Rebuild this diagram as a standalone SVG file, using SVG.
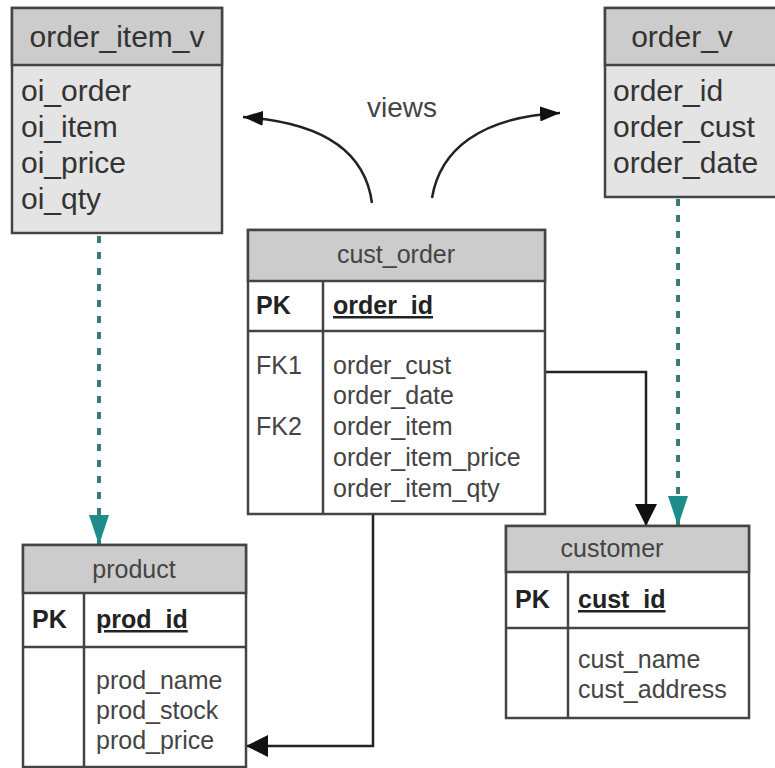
<svg xmlns="http://www.w3.org/2000/svg" width="775" height="768" viewBox="0 0 775 768">
<defs>
<marker id="ab2" viewBox="0 0 22 22" refX="22" refY="11" markerWidth="22" markerHeight="22" markerUnits="userSpaceOnUse" orient="auto"><path d="M0,0 L22,11 L0,22 Z" fill="#111"/></marker>
<marker id="av" viewBox="0 0 20 15" refX="20" refY="7.5" markerWidth="20" markerHeight="15" markerUnits="userSpaceOnUse" orient="auto"><path d="M0,0 L20,7.5 L0,15 Z" fill="#111"/></marker>
<marker id="at" viewBox="0 0 30 20" refX="30" refY="10" markerWidth="30" markerHeight="20" markerUnits="userSpaceOnUse" orient="auto"><path d="M0,0 L30,10 L0,20 Z" fill="#1f8c8c"/></marker>
</defs>
<style>
.box{stroke:#444;stroke-width:2.5;}
.hdr{fill:#cccccc;}
.vbody{fill:#e4e4e4;}
.wbody{fill:#ffffff;}
.ln{stroke:#444;stroke-width:2.5;fill:none;}
.big{font-family:"Liberation Sans",Arial,sans-serif;font-size:30px;fill:#333;}
.sm{font-family:"Liberation Sans",Arial,sans-serif;font-size:25px;fill:#444;}
.pk{font-family:"Liberation Sans",Arial,sans-serif;font-size:25px;font-weight:bold;fill:#222;}
.u{text-decoration:underline;}
.dot{stroke:#3d7a7a;stroke-width:4;stroke-dasharray:7 9;fill:none;}
.con{stroke:#222;stroke-width:2.5;fill:none;}
</style>
<rect width="775" height="768" fill="#fff"/>

<g id="connectors">
<path class="dot" d="M99,236 V545" marker-end="url(#at)"/>
<path class="dot" d="M678,199 V526" marker-end="url(#at)"/>
<path class="con" d="M545,372 H646 V526" marker-end="url(#ab2)"/>
<path class="con" d="M373,514 V746 H246" marker-end="url(#ab2)"/>
<path class="con" d="M372,203 C365,150 320,122 243,117" marker-end="url(#av)"/>
<path class="con" d="M432,198 C440,150 480,117 560,113" marker-end="url(#av)"/>
<text x="402" y="117" text-anchor="middle" class="big" style="fill:#444;font-size:28px">views</text>
</g>

<g id="order_item_v">
<rect class="box vbody" x="12" y="8" width="210" height="225"/>
<rect class="box hdr" x="12" y="8" width="210" height="57"/>
<text class="big" x="117" y="47" text-anchor="middle">order_item_v</text>
<text class="big" x="21" y="101">oi_order</text>
<text class="big" x="21" y="137">oi_item</text>
<text class="big" x="21" y="173">oi_price</text>
<text class="big" x="21" y="209">oi_qty</text>
</g>

<g id="order_v">
<rect class="box vbody" x="605" y="8" width="175" height="189"/>
<rect class="box hdr" x="605" y="8" width="175" height="57"/>
<text class="big" x="682" y="47" text-anchor="middle">order_v</text>
<text class="big" x="613" y="101">order_id</text>
<text class="big" x="613" y="137">order_cust</text>
<text class="big" x="613" y="173">order_date</text>
</g>

<g id="cust_order">
<rect class="box wbody" x="248" y="230" width="297" height="284"/>
<rect class="box hdr" x="248" y="230" width="297" height="51"/>
<line class="ln" x1="248" y1="331" x2="545" y2="331"/>
<line class="ln" x1="323" y1="281" x2="323" y2="514"/>
<text class="sm" x="396" y="263" text-anchor="middle">cust_order</text>
<text class="pk" x="256" y="314">PK</text>
<text class="pk u" x="333" y="314">order_id</text>
<text class="sm" x="256" y="374">FK1</text>
<text class="sm" x="256" y="435">FK2</text>
<text class="sm" x="333" y="374">order_cust</text>
<text class="sm" x="333" y="404">order_date</text>
<text class="sm" x="333" y="435">order_item</text>
<text class="sm" x="333" y="466">order_item_price</text>
<text class="sm" x="333" y="497">order_item_qty</text>
</g>

<g id="product">
<rect class="box wbody" x="23" y="545" width="223" height="222"/>
<rect class="box hdr" x="23" y="545" width="223" height="48"/>
<line class="ln" x1="23" y1="647" x2="246" y2="647"/>
<line class="ln" x1="84" y1="593" x2="84" y2="767"/>
<text class="sm" x="134" y="578" text-anchor="middle">product</text>
<text class="pk" x="32" y="628">PK</text>
<text class="pk u" x="96" y="628">prod_id</text>
<text class="sm" x="96" y="689">prod_name</text>
<text class="sm" x="96" y="719">prod_stock</text>
<text class="sm" x="96" y="749">prod_price</text>
</g>

<g id="customer">
<rect class="box wbody" x="506" y="526" width="243" height="192"/>
<rect class="box hdr" x="506" y="526" width="243" height="46"/>
<line class="ln" x1="506" y1="628" x2="749" y2="628"/>
<line class="ln" x1="568" y1="572" x2="568" y2="718"/>
<text class="sm" x="612" y="557" text-anchor="middle">customer</text>
<text class="pk" x="515" y="608">PK</text>
<text class="pk u" x="578" y="608">cust_id</text>
<text class="sm" x="578" y="668">cust_name</text>
<text class="sm" x="578" y="698">cust_address</text>
</g>
</svg>
